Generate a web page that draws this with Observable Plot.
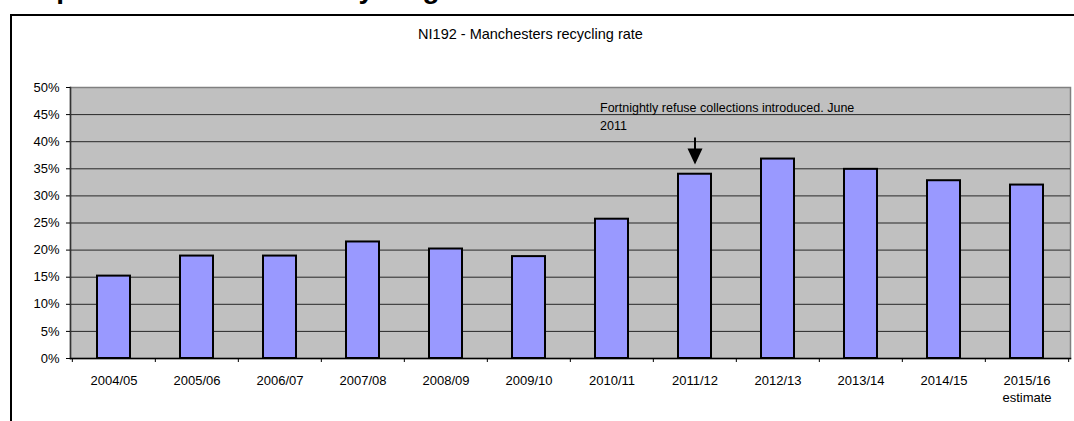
<!DOCTYPE html>
<html>
<head>
<meta charset="utf-8">
<script src="https://cdn.jsdelivr.net/npm/d3@7"></script>
<script src="https://cdn.jsdelivr.net/npm/@observablehq/plot@0.6"></script>
<style>
  html, body { margin: 0; padding: 0; background: #fff; }
  #page { position: relative; width: 1074px; height: 421px; overflow: hidden; font-family: "Liberation Sans", Arial, sans-serif; }
  #heading { position: absolute; left: 8px; top: -25px; margin: 0; font-size: 28px; font-weight: bold; color: #000; white-space: nowrap; line-height: 28px; }
  #box { position: absolute; left: 10px; top: 14px; width: 1200px; height: 600px; border-left: 2px solid #000; border-top: 2px solid #000; box-sizing: border-box; }
  #title { position: absolute; left: 0; width: 1061px; top: 26px; text-align: center; font-size: 14.5px; color: #000; }
  #chart { position: absolute; left: 0; top: 0; }
</style>
</head>
<body>
<div id="page">
  <div id="heading">Graph 1: Manchester's recycling rate</div>
  <div id="box"></div>
  <div id="title">NI192 - Manchesters recycling rate</div>
  <div id="chart"></div>
</div>
<script>
// Financial years and Manchester's recycling rate (%) for each
const years = ["2004/05", "2005/06", "2006/07", "2007/08", "2008/09", "2009/10",
               "2010/11", "2011/12", "2012/13", "2013/14", "2014/15", "2015/16 estimate"];
const rates = [15.2, 18.9, 18.9, 21.5, 20.2, 18.8, 25.7, 34.0, 36.8, 34.9, 32.8, 32.0];
const yTicks = [0, 5, 10, 15, 20, 25, 30, 35, 40, 45, 50];

// Note about the switch to fortnightly collections, pointing at 2011/12
const noteYear = "2011/12";
const noteText = "Fortnightly refuse collections introduced. June\n2011";
const noteLevel = 47.9;   // top of the note text
const arrowTip = 35.8;    // where the arrow points

const data = years.map((year, i) => ({year, rate: rates[i]}));

const W = 1074, H = 421;
const mL = 70, mR = 4, mT = 87, mB = 63;
const step = (W - mL - mR) / years.length;

// Downward arrow: a thin stem with a filled triangular head, tip at the origin
const downArrow = {
  draw(ctx) {
    ctx.moveTo(-1, -27); ctx.lineTo(1, -27); ctx.lineTo(1, -16);
    ctx.lineTo(7.5, -16); ctx.lineTo(0, 0); ctx.lineTo(-7.5, -16);
    ctx.lineTo(-1, -16); ctx.closePath();
  }
};

const chart = Plot.plot({
  width: W,
  height: H,
  marginLeft: mL,
  marginRight: mR,
  marginTop: mT,
  marginBottom: mB,
  style: {background: "transparent", fontFamily: "'Liberation Sans', Arial, sans-serif", fontSize: "13px", color: "#000", overflow: "visible"},
  x: {domain: years, paddingInner: 0.6, paddingOuter: 0.3, axis: null},
  y: {domain: [0, 50], axis: null},
  marks: [
    Plot.frame({fill: "#c0c0c0", stroke: "#808080", strokeWidth: 1.5}),
    Plot.gridY(yTicks.slice(1, -1), {stroke: "#000", strokeOpacity: 0.8, strokeWidth: 1}),
    Plot.barY(data, {x: "year", y: "rate", fill: "#9999ff", stroke: "#000", strokeWidth: 2}),
    Plot.frame({anchor: "left", stroke: "#333", strokeWidth: 1.5}),
    Plot.frame({anchor: "bottom", stroke: "#000", strokeWidth: 1.5}),
    Plot.axisY(yTicks, {anchor: "left", tickSize: 4, tickPadding: 7, tickFormat: d => d + "%", fontSize: 13, stroke: "#000", label: null}),
    // tick marks sit on the category boundaries
    Plot.axisX(years, {anchor: "bottom", tickSize: 4, dx: -step / 2, tickFormat: () => "", stroke: "#000", label: null}),
    Plot.axisX(years.slice(-1), {anchor: "bottom", tickSize: 4, dx: step / 2, tickFormat: () => "", stroke: "#000", label: null}),
    Plot.axisX(years, {anchor: "bottom", tickSize: 0, tickPadding: 14, tickFormat: d => d.replace(" ", "\n"), lineHeight: 1.33, fontSize: 13, label: null}),
    Plot.text([noteText], {x: () => noteYear, y: () => noteLevel, dx: -95, text: d => d, textAnchor: "start", lineAnchor: "top", lineHeight: 1.45, fontSize: 12.5, fill: "#000"}),
    Plot.dot([arrowTip], {x: () => noteYear, y: d => d, symbol: downArrow, fill: "#000", stroke: null, r: 10})
  ]
});

document.getElementById("chart").appendChild(chart);
</script>
</body>
</html>
